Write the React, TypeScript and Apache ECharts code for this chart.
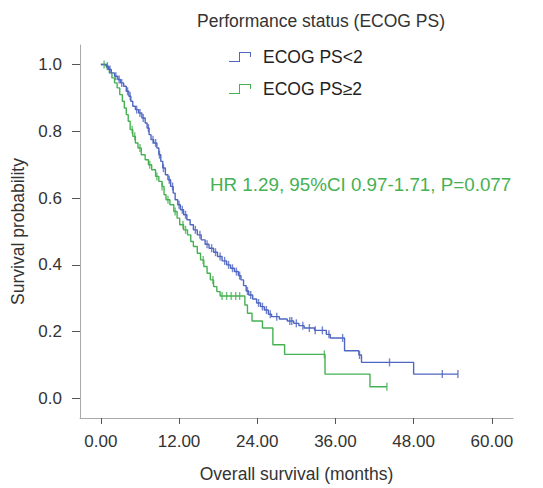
import React, { useEffect, useRef } from "react";
import * as echarts from "echarts";

const titleText = "Performance status (ECOG PS)";
const seriesNames = ["ECOG PS<2", "ECOG PS\u22652"];
const hrText = "HR 1.29, 95%CI 0.97-1.71, P=0.077";
const xTicks = [0, 12, 24, 36, 48, 60];
const yTicks = [0, 0.2, 0.4, 0.6, 0.8, 1.0];

// ECOG PS<2 (blue) step curve
const blueTimes = [0, 0.8, 1.2, 1.6, 2.1, 2.6, 3.0, 3.5, 3.9, 4.3, 4.6, 4.9, 5.3, 5.8, 6.3, 6.8, 7.1, 7.4, 7.7, 8.1, 8.6, 8.9, 9.2, 9.5, 9.9, 10.3, 10.7, 11.1, 11.4, 11.8, 12.2, 12.7, 13.2, 13.7, 14.2, 14.8, 15.4, 16.0, 16.6, 17.3, 17.9, 18.6, 19.3, 19.9, 20.5, 21.1, 21.5, 21.9, 22.3, 22.7, 23.3, 23.9, 24.5, 25.1, 25.7, 26.2, 27.4, 28.6, 29.6, 30.4, 31.2, 32.8, 34.6, 35.2, 37.4, 39.6, 40.0, 48.0, 54.8];
const blueSurv = [1.0, 0.995, 0.985, 0.975, 0.965, 0.955, 0.945, 0.935, 0.92, 0.905, 0.89, 0.875, 0.865, 0.855, 0.84, 0.825, 0.81, 0.79, 0.775, 0.765, 0.75, 0.73, 0.71, 0.69, 0.67, 0.655, 0.635, 0.615, 0.595, 0.58, 0.565, 0.55, 0.535, 0.52, 0.505, 0.49, 0.475, 0.462, 0.45, 0.438, 0.425, 0.412, 0.40, 0.39, 0.38, 0.368, 0.355, 0.338, 0.322, 0.31, 0.298, 0.286, 0.275, 0.265, 0.252, 0.245, 0.238, 0.232, 0.225, 0.218, 0.211, 0.204, 0.192, 0.181, 0.143, 0.13, 0.108, 0.073, 0.073];
const blueCensor = [1.0, 1.4, 2.3, 2.8, 3.2, 4.1, 4.5, 5.5, 6.0, 6.5, 7.3, 8.0, 8.4, 9.0, 9.6, 10.5, 11.0, 12.0, 12.5, 13.0, 14.5, 15.2, 16.3, 17.0, 17.6, 18.3, 19.0, 19.6, 20.2, 20.8, 21.3, 22.5, 23.0, 24.2, 24.8, 25.4, 26.0, 27.0, 29.0, 29.3, 30.0, 31.0, 32.0, 32.9, 34.0, 35.0, 37.1, 39.7, 44.3, 52.4, 54.8];

// ECOG PS>=2 (green) step curve
const greenTimes = [0, 0.9, 1.3, 1.7, 2.1, 2.5, 2.9, 3.3, 3.6, 3.9, 4.2, 4.5, 4.9, 5.3, 5.7, 6.2, 6.8, 7.3, 7.8, 8.4, 8.9, 9.4, 9.7, 10.0, 10.6, 11.2, 11.7, 12.1, 12.7, 13.3, 13.8, 14.2, 14.8, 15.3, 15.8, 16.3, 16.8, 17.3, 17.8, 18.3, 22.1, 22.5, 23.2, 24.8, 26.4, 28.2, 34.4, 41.3, 43.9];
const greenSurv = [1.0, 0.99, 0.975, 0.96, 0.945, 0.93, 0.91, 0.89, 0.87, 0.85, 0.83, 0.805, 0.785, 0.765, 0.75, 0.73, 0.715, 0.70, 0.685, 0.665, 0.65, 0.635, 0.61, 0.595, 0.58, 0.56, 0.54, 0.52, 0.505, 0.49, 0.47, 0.455, 0.435, 0.415, 0.395, 0.375, 0.355, 0.335, 0.32, 0.307, 0.28, 0.255, 0.232, 0.211, 0.161, 0.132, 0.073, 0.035, 0.035];
const greenCensor = [0.5, 4.8, 5.2, 6.0, 7.5, 8.6, 9.4, 10.3, 11.4, 12.6, 13.0, 15.7, 17.2, 18.6, 19.3, 20.0, 20.7, 21.3, 34.3, 43.9];

const BLUE = "#4f66c2";
const GREEN = "#45b153";
const FONT = "'Liberation Sans', Arial, sans-serif";

function survAt(times: number[], surv: number[], t: number): number {
  let s = surv[0];
  for (let i = 0; i < times.length; i++) {
    if (times[i] <= t) s = surv[i];
  }
  return s;
}

const legendIcon =
  "path://M0,9 L10,9 L10,0 L22,0 L22,5 L21,5 L21,1 L11,1 L11,10 L0,10 Z";

export default function App() {
  const ref = useRef<HTMLDivElement>(null);
  useEffect(() => {
    document.body.style.margin = "0";
    if (!ref.current) return;
    const chart = echarts.init(ref.current, null, { renderer: "svg" });
    const stepData = (ts: number[], ss: number[]) => ts.map((t, i) => [t, ss[i]]);
    const censorData = (cs: number[], ts: number[], ss: number[]) =>
      cs.map((t) => [t, survAt(ts, ss, t)]);
    chart.setOption({
      animation: false,
      backgroundColor: "#fff",
      textStyle: { fontFamily: FONT },
      title: {
        text: titleText,
        left: 192,
        top: 7,
        textStyle: { fontSize: 17.5, fontWeight: "normal", color: "#333", fontFamily: FONT },
      },
      legend: {
        data: seriesNames,
        orient: "vertical",
        left: 224,
        top: 43,
        itemWidth: 22,
        itemHeight: 10,
        itemGap: 14,
        icon: legendIcon,
        textStyle: { fontSize: 17.5, color: "#222", fontFamily: FONT, padding: [0, 0, 0, 7] },
      },
      grid: { left: 80, top: 45, width: 433, height: 382 },
      xAxis: {
        type: "value",
        min: -3.2,
        max: 63.25,
        name: "Overall survival (months)",
        nameLocation: "middle",
        nameGap: 47,
        nameTextStyle: { fontSize: 17.5, color: "#333", fontFamily: FONT },
        splitLine: { show: false },
        axisLine: { show: true, onZero: false, lineStyle: { color: "#aaa", width: 1 } },
        axisTick: { show: true, customValues: xTicks, length: 6, lineStyle: { color: "#555" } },
        axisLabel: {
          customValues: xTicks,
          formatter: (v: number) => v.toFixed(2),
          fontSize: 17,
          color: "#333",
          margin: 15,
          fontFamily: FONT,
        },
      },
      yAxis: {
        type: "value",
        min: -0.0585,
        max: 1.0585,
        name: "Survival probability",
        nameLocation: "middle",
        nameGap: 43,
        nameTextStyle: { fontSize: 17.5, color: "#333", fontFamily: FONT },
        splitLine: { show: false },
        axisLine: { show: true, onZero: false, lineStyle: { color: "#aaa", width: 1 } },
        axisTick: { show: true, customValues: yTicks, length: 8, lineStyle: { color: "#555" } },
        axisLabel: {
          customValues: yTicks,
          formatter: (v: number) => v.toFixed(1),
          fontSize: 17,
          color: "#333",
          margin: 18,
          fontFamily: FONT,
        },
      },
      graphic: [
        {
          type: "text",
          left: 210,
          top: 175,
          style: { text: hrText, fontSize: 18.8, fill: GREEN, fontFamily: FONT },
        },
      ],
      series: [
        {
          name: seriesNames[0],
          type: "line",
          step: "end",
          showSymbol: false,
          color: BLUE,
          lineStyle: { color: BLUE, width: 1.4 },
          data: stepData(blueTimes, blueSurv),
          z: 3,
        },
        {
          name: seriesNames[1],
          type: "line",
          step: "end",
          showSymbol: false,
          color: GREEN,
          lineStyle: { color: GREEN, width: 1.4 },
          data: stepData(greenTimes, greenSurv),
          z: 2,
        },
        {
          name: "censor1",
          type: "scatter",
          symbol: "rect",
          symbolSize: [1.4, 8],
          itemStyle: { color: BLUE },
          data: censorData(blueCensor, blueTimes, blueSurv),
          z: 4,
        },
        {
          name: "censor2",
          type: "scatter",
          symbol: "rect",
          symbolSize: [1.4, 8],
          itemStyle: { color: GREEN },
          data: censorData(greenCensor, greenTimes, greenSurv),
          z: 4,
        },
      ],
    });
    return () => chart.dispose();
  }, []);
  return <div ref={ref} style={{ width: 543, height: 488 }} />;
}
